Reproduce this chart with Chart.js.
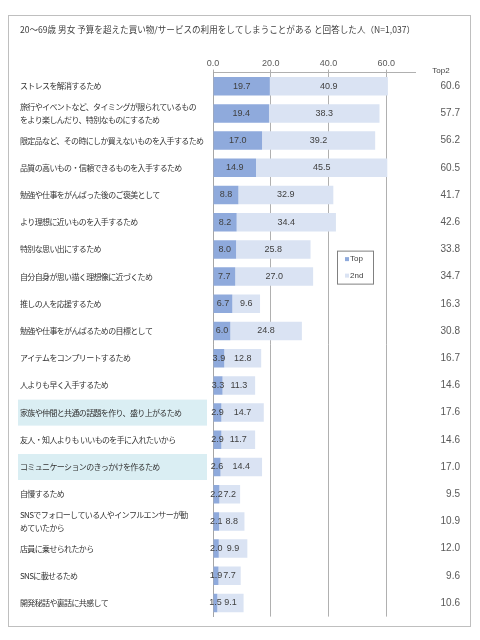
<!DOCTYPE html>
<html>
<head>
<meta charset="utf-8">
<script src="https://cdn.jsdelivr.net/npm/chart.js@4/dist/chart.umd.min.js"></script>
<style>
html,body{margin:0;padding:0;background:#fff;}
#box{position:absolute;left:8px;top:15px;width:463px;height:612px;border:1px solid #bfbfbf;box-sizing:border-box;}
#box canvas{display:block;}
</style>
</head>
<body>
<div id="box"><canvas id="c"></canvas></div>
<script>
const titleText = '20～69歳 男女 予算を超えた買い物/サービスの利用をしてしまうことがある と回答した人（N=1,037）';
const categories = [
  'ストレスを解消するため',
  ['旅行やイベントなど、タイミングが限られているもの','をより楽しんだり、特別なものにするため'],
  '限定品など、その時にしか買えないものを入手するため',
  '品質の高いもの・信頼できるものを入手するため',
  '勉強や仕事をがんばった後のご褒美として',
  'より理想に近いものを入手するため',
  '特別な思い出にするため',
  '自分自身が思い描く理想像に近づくため',
  '推しの人を応援するため',
  '勉強や仕事をがんばるための目標として',
  'アイテムをコンプリートするため',
  '人よりも早く入手するため',
  '家族や仲間と共通の話題を作り、盛り上がるため',
  '友人・知人よりも いいものを手に入れたいから',
  'コミュニケーションのきっかけを作るため',
  '自慢するため',
  ['SNSでフォローしている人やインフルエンサーが勧','めていたから'],
  '店員に乗せられたから',
  'SNSに載せるため',
  '開発秘話や裏話に共感して'
];
const seriesNames = ['Top', '2nd'];
const topValues = [19.7,19.4,17.0,14.9,8.8,8.2,8.0,7.7,6.7,6.0,3.9,3.3,2.9,2.9,2.6,2.2,2.1,2.0,1.9,1.5];
const secondValues = [40.9,38.3,39.2,45.5,32.9,34.4,25.8,27.0,9.6,24.8,12.8,11.3,14.7,11.7,14.4,7.2,8.8,9.9,7.7,9.1];
const top2Values = [60.6,57.7,56.2,60.5,41.7,42.6,33.8,34.7,16.3,30.8,16.7,14.6,17.6,14.6,17.0,9.5,10.9,12.0,9.6,10.6];
const top2Header = 'Top2';
const highlightRows = [12, 14];

const JP = '"Noto Sans CJK JP", "Noto Sans", sans-serif';
const NUM = '"Liberation Sans", Arial, sans-serif';

const extras = {
  id: 'extras',
  beforeDraw(chart) {
    const ctx = chart.ctx, y = chart.scales.y;
    ctx.save();
    ctx.fillStyle = '#daeef3';
    highlightRows.forEach(i => {
      const py = y.getPixelForValue(i);
      ctx.fillRect(9, py - 13, 189, 26);
    });
    ctx.restore();
  },
  afterDatasetsDraw(chart) {
    const ctx = chart.ctx;
    ctx.save();
    ctx.font = '9px ' + NUM;
    ctx.fillStyle = '#404040';
    ctx.textAlign = 'center';
    ctx.textBaseline = 'middle';
    chart.data.datasets.forEach((ds, di) => {
      const meta = chart.getDatasetMeta(di);
      meta.data.forEach((el, i) => {
        const cx = (el.base + el.x) / 2;
        ctx.fillText(ds.data[i].toFixed(1), cx, el.y);
      });
    });
    // Top2 column
    const y = chart.scales.y, area = chart.chartArea;
    ctx.font = '8px ' + NUM;
    ctx.fillStyle = '#404040';
    ctx.textAlign = 'center';
    ctx.fillText(top2Header, area.right + 26, area.top - 2);
    ctx.font = '10px ' + NUM;
    ctx.fillStyle = '#595959';
    ctx.textAlign = 'right';
    top2Values.forEach((v, i) => {
      ctx.fillText(v.toFixed(1), area.right + 45, y.getPixelForValue(i));
    });
    // legend
    const lx = area.left + 124, ly = area.top + 178;
    ctx.fillStyle = '#ffffff';
    ctx.fillRect(lx, ly, 36, 33);
    ctx.strokeStyle = '#808080';
    ctx.lineWidth = 1;
    ctx.strokeRect(lx + 0.5, ly + 0.5, 36, 33);
    ctx.font = '8px ' + NUM;
    ctx.textAlign = 'left';
    chart.data.datasets.forEach((ds, di) => {
      const iy = ly + 8.5 + di * 16.5;
      ctx.fillStyle = ds.backgroundColor;
      ctx.fillRect(lx + 8, iy - 2, 4, 4);
      ctx.fillStyle = '#404040';
      ctx.fillText(ds.label, lx + 13, iy);
    });
    ctx.restore();
  }
};

new Chart(document.getElementById('c'), {
  type: 'bar',
  data: {
    labels: categories,
    datasets: [
      { label: seriesNames[0], data: topValues, backgroundColor: '#8faadc', barPercentage: 0.68, categoryPercentage: 1 },
      { label: seriesNames[1], data: secondValues, backgroundColor: '#dae3f3', barPercentage: 0.68, categoryPercentage: 1 }
    ]
  },
  options: {
    indexAxis: 'y',
    responsive: true,
    maintainAspectRatio: false,
    animation: false,
    devicePixelRatio: 1,
    layout: { padding: { left: 11, right: 55, top: 0, bottom: 7 } },
    plugins: {
      legend: { display: false },
      tooltip: { enabled: false },
      title: {
        display: true,
        text: titleText,
        align: 'start',
        color: '#404040',
        font: { family: JP, size: 8.6, weight: 'normal', lineHeight: 1.2 },
        padding: { top: 9, bottom: 21.5 }
      }
    },
    scales: {
      x: {
        position: 'top',
        stacked: true,
        min: 0,
        max: 70,
        ticks: {
          stepSize: 20,
          includeBounds: false,
          padding: 1,
          color: '#595959',
          font: { family: NUM, size: 9 },
          callback: v => Number(v).toFixed(1)
        },
        grid: { color: '#b0b0b0', tickLength: 3, drawTicks: true },
        border: { color: '#b0b0b0' }
      },
      y: {
        stacked: true,
        afterFit(scale) {
          scale.width = 193;
          if (!scale._lsWrapped) {
            const orig = scale.drawLabels.bind(scale);
            scale.drawLabels = function (a) {
              const c = this.ctx;
              c.save();
              c.letterSpacing = '-0.65px';
              orig(a);
              c.restore();
            };
            scale._lsWrapped = true;
          }
        },
        ticks: {
          crossAlign: 'far',
          color: '#333333',
          font: { family: JP, size: 8, lineHeight: 1.6 },
          autoSkip: false
        },
        grid: { display: false },
        border: { color: '#a6a6a6' }
      }
    }
  },
  plugins: [extras]
});
</script>
</body>
</html>
